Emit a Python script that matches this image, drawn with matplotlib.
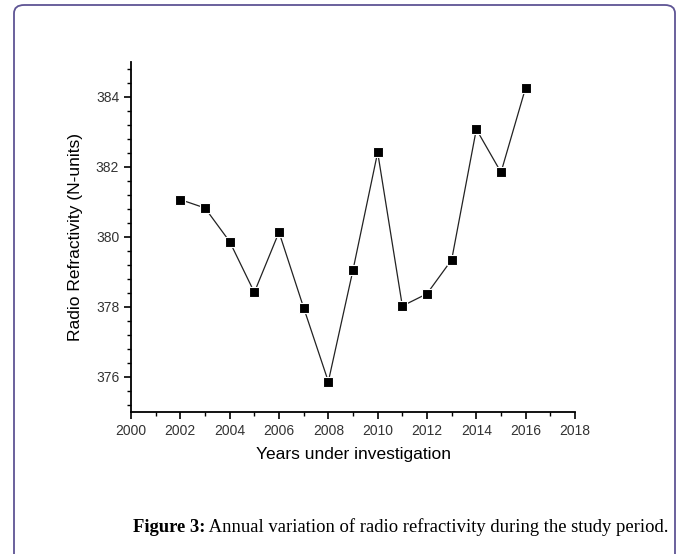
import matplotlib
matplotlib.use("Agg")
import matplotlib.pyplot as plt
from matplotlib.patches import FancyBboxPatch
from matplotlib.ticker import MultipleLocator

years = [2002, 2003, 2004, 2005, 2006, 2007, 2008, 2009,
         2010, 2011, 2012, 2013, 2014, 2015, 2016]
refractivity = [381.06, 380.82, 379.86, 378.41, 380.13, 377.97, 375.86, 379.05,
                382.41, 378.02, 378.37, 379.34, 383.07, 381.84, 384.26]

x_label = "Years under investigation"
y_label = "Radio Refractivity (N-units)"
caption_bold = "Figure 3:"
caption_rest = " Annual variation of radio refractivity during the study period."

fig = plt.figure(figsize=(6.79, 5.54), dpi=100)

# rounded frame around the whole figure
frame = FancyBboxPatch((14 / 679, -0.05), 661 / 679, 1 - 5 / 554 + 0.05,
                       boxstyle="round,pad=0,rounding_size=0.015",
                       transform=fig.transFigure, fill=False,
                       edgecolor="#5e5494", linewidth=1.3)
fig.patches.append(frame)

ax = fig.add_axes([131 / 679, 1 - 411.7 / 554, 444 / 679, 350 / 554])
ax.plot(years, refractivity, color="#222222", linewidth=0.9,
        marker="s", markersize=7, markerfacecolor="black",
        markeredgecolor="white", markeredgewidth=0.8)

ax.set_xlim(2000, 2018)
ax.set_ylim(375, 385)
ax.xaxis.set_major_locator(MultipleLocator(2))
ax.xaxis.set_minor_locator(MultipleLocator(1))
ax.yaxis.set_major_locator(MultipleLocator(2))
ax.yaxis.set_minor_locator(MultipleLocator(0.4))

for s in ["top", "right"]:
    ax.spines[s].set_visible(False)
for s in ["left", "bottom"]:
    ax.spines[s].set_linewidth(1.3)

ax.tick_params(which="major", direction="out", length=5, width=1.2,
               labelsize=10, labelcolor="#333333")
ax.tick_params(which="minor", direction="out", length=3, width=1.0)
for lab in ax.get_xticklabels() + ax.get_yticklabels():
    lab.set_family("Liberation Sans")

ax.set_xlabel(x_label, fontsize=12.5, family="Liberation Sans", labelpad=7)
ax.set_ylabel(y_label, fontsize=12.5, family="Liberation Sans", labelpad=9)

# caption with bold lead-in
t1 = fig.text(133 / 679, 1 - 527 / 554, caption_bold, fontsize=13.4,
              family="Liberation Serif", fontweight="bold", va="center")
fig.canvas.draw()
bb = t1.get_window_extent()
fig.text(bb.x1 / 679, 1 - 527 / 554, caption_rest, fontsize=13.4,
         family="Liberation Serif", va="center")

fig.savefig("out.png", dpi=100)
